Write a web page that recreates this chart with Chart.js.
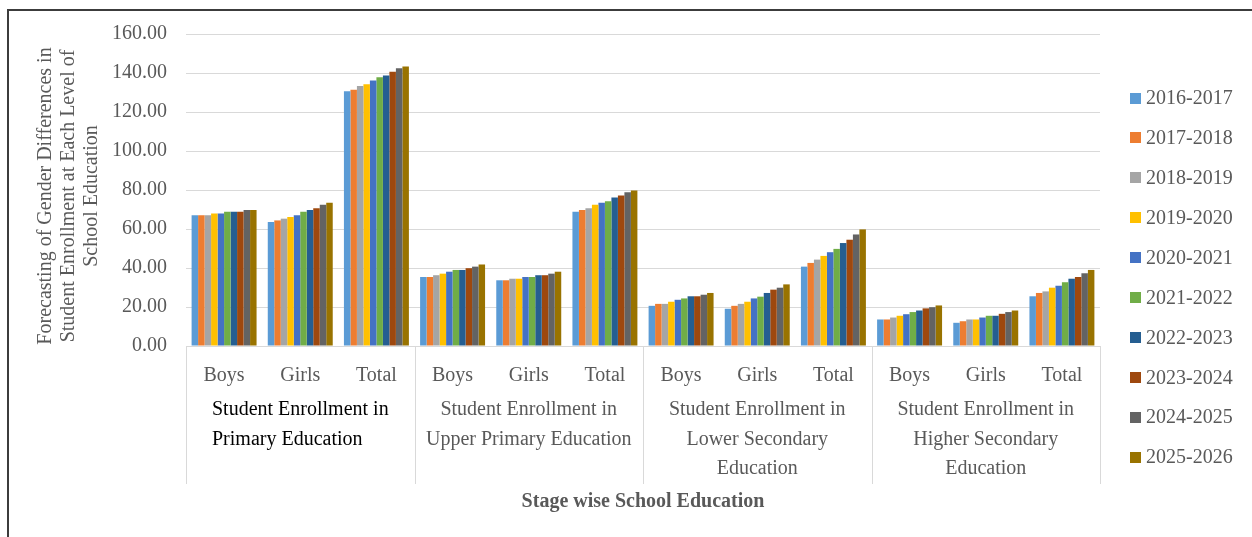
<!DOCTYPE html>
<html>
<head>
<meta charset="utf-8">
<script src="https://cdn.jsdelivr.net/npm/chart.js@4/dist/chart.umd.min.js"></script>
<style>
  body { margin: 0; background: #fff; }
  #wrap { position: relative; width: 1252px; height: 537px; overflow: hidden; }
  #frame { position: absolute; left: 7px; top: 9px; right: -4px; bottom: -4px;
           border-left: 2px solid #3c3c3c; border-top: 2px solid #3c3c3c; }
  #chart { position: absolute; left: 0; top: 0; }
</style>
</head>
<body>
<div id="wrap">
  <div id="frame"></div>
  <canvas id="chart" width="1252" height="537"></canvas>
</div>
<script>
// academic years (one series each)
const years = ['2016-2017','2017-2018','2018-2019','2019-2020','2020-2021',
               '2021-2022','2022-2023','2023-2024','2024-2025','2025-2026'];
const colors = ['#5B9BD5','#ED7D31','#A5A5A5','#FFC000','#4472C4',
                '#70AD47','#255E91','#9E480E','#636363','#997300'];

// x axis: inner labels and the stage each group of three belongs to
const categories = ['Boys','Girls','Total','Boys','Girls','Total',
                    'Boys','Girls','Total','Boys','Girls','Total'];
const stages = [
  ['Student Enrollment in', 'Primary Education'],
  ['Student Enrollment in', 'Upper Primary Education'],
  ['Student Enrollment in', 'Lower Secondary', 'Education'],
  ['Student Enrollment in', 'Higher Secondary', 'Education']
];
const yTicks = [0, 20, 40, 60, 80, 100, 120, 140, 160];

// values per category, 2016-2017 .. 2025-2026
const primaryBoys   = [67.0, 67.0, 67.0, 68.0, 68.0, 68.9, 68.9, 68.9, 69.8, 69.8];
const primaryGirls  = [63.6, 64.4, 65.3, 66.2, 67.0, 68.9, 69.8, 70.7, 72.5, 73.4];
const primaryTotal  = [130.6, 131.4, 133.3, 134.2, 136.1, 137.8, 138.7, 140.6, 142.5, 143.3];
const upperBoys     = [35.4, 35.4, 36.3, 37.1, 38.1, 39.0, 39.0, 39.9, 40.7, 41.8];
const upperGirls    = [33.7, 33.7, 34.5, 34.5, 35.4, 35.4, 36.3, 36.3, 37.1, 38.1];
const upperTotal    = [68.9, 69.8, 70.6, 72.5, 73.4, 74.2, 76.1, 77.2, 78.9, 79.7];
const lowerSecBoys  = [20.6, 21.6, 21.6, 22.7, 23.7, 24.4, 25.5, 25.5, 26.3, 27.2];
const lowerSecGirls = [19.1, 20.6, 21.6, 22.7, 24.4, 25.3, 27.2, 28.9, 29.9, 31.6];
const lowerSecTotal = [40.7, 42.6, 44.3, 46.2, 48.1, 49.8, 52.8, 54.5, 57.2, 59.8];
const higherSecBoys = [13.6, 13.6, 14.6, 15.5, 16.3, 17.4, 18.2, 19.3, 19.9, 20.8];
const higherSecGirls= [11.9, 12.7, 13.6, 13.6, 14.6, 15.5, 15.5, 16.5, 17.4, 18.2];
const higherSecTotal= [25.5, 27.2, 28.0, 29.9, 30.9, 32.7, 34.5, 35.4, 37.3, 39.0];

const rows = [primaryBoys, primaryGirls, primaryTotal,
              upperBoys, upperGirls, upperTotal,
              lowerSecBoys, lowerSecGirls, lowerSecTotal,
              higherSecBoys, higherSecGirls, higherSecTotal];

const FONT = '"Liberation Serif", "Times New Roman", serif';
const GREY = '#595959';

const datasets = years.map((y, i) => ({
  label: y,
  data: rows.map(r => r[i]),
  backgroundColor: colors[i],
  borderWidth: 0,
  categoryPercentage: 0.853,
  barPercentage: 1.0
}));

// extra drawing: stage labels, dividers, axis titles, legend
const extras = {
  id: 'extras',
  afterDraw(chart) {
    const ctx = chart.ctx;
    const area = chart.chartArea;
    const groupW = (area.right - area.left) / stages.length;
    ctx.save();

    // divider lines under the axis
    ctx.strokeStyle = '#d9d9d9';
    ctx.lineWidth = 1;
    for (let k = 0; k <= stages.length; k++) {
      const x = Math.round(area.left + k * groupW) + 0.5;
      ctx.beginPath();
      ctx.moveTo(x, area.bottom);
      ctx.lineTo(x, 484);
      ctx.stroke();
    }

    // stage names
    ctx.font = '20px ' + FONT;
    ctx.textBaseline = 'middle';
    stages.forEach((lines, k) => {
      lines.forEach((t, j) => {
        const y = 410 + j * 29.5;
        if (k === 0) {
          ctx.fillStyle = '#000';
          ctx.textAlign = 'left';
          ctx.fillText(t, area.left + 26, y);
        } else {
          ctx.fillStyle = GREY;
          ctx.textAlign = 'center';
          ctx.fillText(t, area.left + (k + 0.5) * groupW, y);
        }
      });
    });

    // x title
    ctx.fillStyle = GREY;
    ctx.textAlign = 'center';
    ctx.font = 'bold 20px ' + FONT;
    ctx.fillText('Stage wise School Education', (area.left + area.right) / 2, 502);

    // y title
    const yTitle = ['Forecasting of Gender Differences in',
                    'Student Enrollment at Each Level of',
                    'School Education'];
    ctx.font = '20px ' + FONT;
    ctx.translate(69, 196);
    ctx.rotate(-Math.PI / 2);
    yTitle.forEach((t, j) => ctx.fillText(t, 0, (j - 1) * 23));
    ctx.setTransform(1, 0, 0, 1, 0, 0);

    // legend
    ctx.textAlign = 'left';
    chart.data.datasets.forEach((ds, i) => {
      const cy = 98 + i * 39.9;
      ctx.fillStyle = ds.backgroundColor;
      ctx.fillRect(1130, Math.round(cy - 5.5), 11, 11);
      ctx.fillStyle = GREY;
      ctx.fillText(ds.label, 1146, cy + 1);
    });
    ctx.restore();
  }
};

new Chart(document.getElementById('chart'), {
  type: 'bar',
  data: { labels: categories, datasets: datasets },
  plugins: [extras],
  options: {
    responsive: false,
    animation: false,
    devicePixelRatio: 1,
    layout: { padding: { left: 10, right: 152, top: 34, bottom: 0 } },
    plugins: { legend: { display: false }, tooltip: { enabled: false } },
    scales: {
      x: {
        grid: { display: false },
        border: { color: '#d9d9d9' },
        ticks: { font: { family: FONT, size: 20 }, color: GREY, padding: 10, maxRotation: 0 },
        afterFit(scale) { scale.height = 191; }
      },
      y: {
        min: yTicks[0],
        max: yTicks[yTicks.length - 1],
        afterBuildTicks(scale) { scale.ticks = yTicks.map(v => ({ value: v })); },
        grid: { color: '#d9d9d9', drawTicks: false },
        border: { display: false },
        ticks: {
          font: { family: FONT, size: 20 }, color: GREY, padding: 19,
          callback: v => v.toFixed(2)
        },
        afterFit(scale) { scale.width = 176; }
      }
    }
  }
});
</script>
</body>
</html>
